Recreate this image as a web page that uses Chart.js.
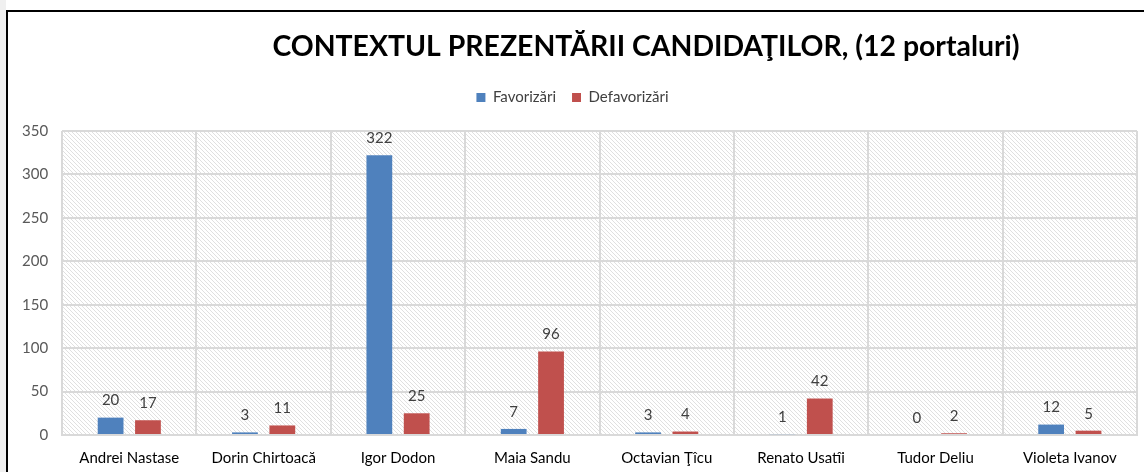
<!DOCTYPE html>
<html>
<head>
<meta charset="utf-8">
<script src="https://cdn.jsdelivr.net/npm/chart.js@4"></script>
<style>
  html, body { margin: 0; padding: 0; background: #fff; }
  body { width: 1144px; height: 472px; overflow: hidden; position: relative; }
  #strip { position: absolute; left: 0; top: 0; width: 6px; height: 472px; background: #f0f0f0; }
  #frame { position: absolute; left: 6px; top: 10px; width: 1138px; height: 462px;
           border-left: 2px solid #000; border-top: 2px solid #000; box-sizing: border-box; }
  #wrap { position: absolute; left: 8px; top: 12px; width: 1136px; height: 460px; }
</style>
</head>
<body>
<div id="strip"></div>
<div id="frame"></div>
<div id="wrap"><canvas id="chart" width="1136" height="460"></canvas></div>
<script>
const titleText = 'CONTEXTUL PREZENTĂRII CANDIDAŢILOR, (12 portaluri)';
const candidates = ['Andrei Nastase', 'Dorin Chirtoacă', 'Igor Dodon', 'Maia Sandu',
  'Octavian Ţîcu', 'Renato Usatîi', 'Tudor Deliu', 'Violeta Ivanov'];
const favorizari = [20, 3, 322, 7, 3, 1, 0, 12];
const defavorizari = [17, 11, 25, 96, 4, 42, 2, 5];
const yTicks = [0, 50, 100, 150, 200, 250, 300, 350];

const FONT = 'Lato, "Open Sans", sans-serif';

// hasura diagonala din fundalul zonei de desen
function makeHatch() {
  const c = document.createElement('canvas');
  c.width = 4; c.height = 4;
  const g = c.getContext('2d');
  g.fillStyle = '#ffffff';
  g.fillRect(0, 0, 4, 4);
  g.fillStyle = '#e0e0e0';
  for (let i = 0; i < 4; i++) g.fillRect(i, i, 1, 1);
  return g.createPattern(c, 'repeat');
}

const hatchPlugin = {
  id: 'hatch',
  beforeDraw(chart) {
    const { ctx, chartArea: a } = chart;
    ctx.save();
    ctx.fillStyle = makeHatch();
    ctx.fillRect(a.left, a.top, a.right - a.left, a.bottom - a.top);
    ctx.restore();
  }
};

// spatiu suplimentar sub legenda
const legendSpace = {
  id: 'legendSpace',
  beforeInit(chart) {
    const fit = chart.legend.fit;
    chart.legend.fit = function () {
      fit.call(this);
      this.height += 16;
    };
  }
};

const titlePlugin = {
  id: 'customTitle',
  afterDraw(chart) {
    const ctx = chart.ctx;
    ctx.save();
    ctx.font = 'bold 28.4px ' + FONT;
    ctx.fillStyle = '#000';
    ctx.textAlign = 'center';
    ctx.textBaseline = 'middle';
    ctx.fillText(titleText, 638, 35);
    ctx.restore();
  }
};

const labelsPlugin = {
  id: 'valueLabels',
  afterDatasetsDraw(chart) {
    const ctx = chart.ctx;
    ctx.save();
    ctx.font = '15px ' + FONT;
    ctx.fillStyle = '#404040';
    ctx.textAlign = 'center';
    ctx.textBaseline = 'middle';
    chart.data.datasets.forEach((ds, i) => {
      chart.getDatasetMeta(i).data.forEach((bar, j) => {
        ctx.fillText(String(ds.data[j]), bar.x, bar.y - 17);
      });
    });
    ctx.restore();
  }
};

new Chart(document.getElementById('chart'), {
  type: 'bar',
  data: {
    labels: candidates,
    datasets: [
      { label: 'Favorizări', data: favorizari, backgroundColor: '#4f81bd',
        categoryPercentage: 0.556, barPercentage: 0.69 },
      { label: 'Defavorizări', data: defavorizari, backgroundColor: '#c0504d',
        categoryPercentage: 0.556, barPercentage: 0.69 }
    ]
  },
  options: {
    responsive: false,
    animation: false,
    layout: { padding: { top: 62, right: 7, left: 0, bottom: 0 } },
    plugins: {
      title: { display: false },
      tooltip: { enabled: false },
      legend: {
        position: 'top',
        labels: {
          boxWidth: 9, boxHeight: 9, padding: 16,
          color: '#404040', font: { family: FONT, size: 15 }
        }
      }
    },
    scales: {
      x: {
        afterFit(scale) { scale.height = 37; },
        grid: { color: '#d9d9d9', lineWidth: 2, drawTicks: false },
        border: { color: '#d9d9d9', width: 2 },
        ticks: { color: '#000', padding: 14, font: { family: FONT, size: 15 } }
      },
      y: {
        min: 0, max: 350,
        afterBuildTicks(axis) { axis.ticks = yTicks.map(v => ({ value: v })); },
        grid: { color: '#d9d9d9', lineWidth: 2, drawTicks: false },
        border: { display: false },
        ticks: { color: '#595959', padding: 14, font: { family: FONT, size: 15 } }
      }
    }
  },
  plugins: [hatchPlugin, legendSpace, labelsPlugin, titlePlugin]
});
</script>
</body>
</html>
